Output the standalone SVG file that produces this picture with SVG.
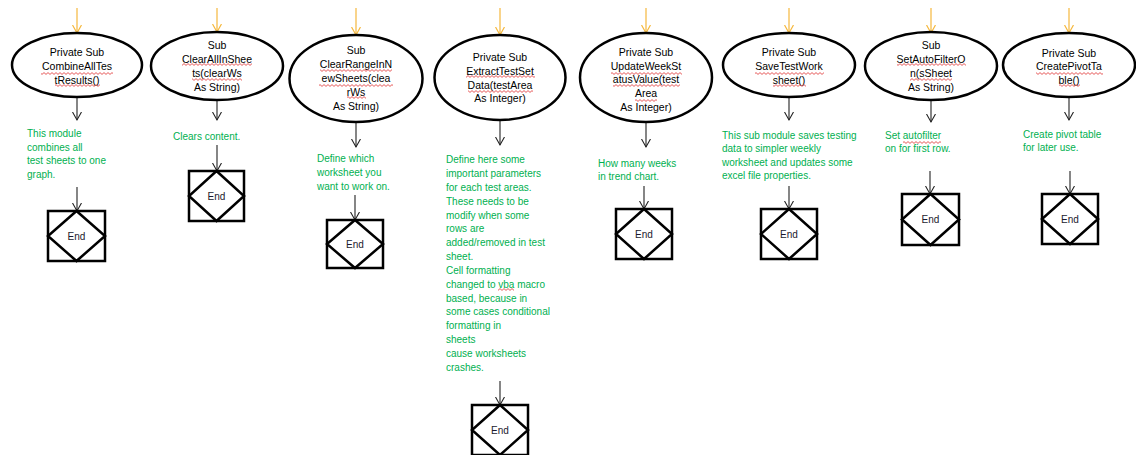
<svg xmlns="http://www.w3.org/2000/svg" width="1136" height="455" viewBox="0 0 1136 455">
<style>
.el{fill:#fff;stroke:#000;stroke-width:2.5}
.box{fill:#fff;stroke:#000;stroke-width:2.5}
.dia{fill:none;stroke:#000;stroke-width:2.5;stroke-linejoin:miter}
.t{font-family:"Liberation Sans",Arial,sans-serif;font-size:10.5px;fill:#000;text-anchor:middle}
.e{font-family:"Liberation Sans",Arial,sans-serif;font-size:10px;fill:#1a1a2e;text-anchor:middle}
.g{font-family:"Liberation Sans",Arial,sans-serif;font-size:10px;fill:#00B050}
.c{stroke:#222;stroke-width:1.1;fill:none;marker-end:url(#ab)}
.o{stroke:#F5B83D;stroke-width:1.2;fill:none;marker-end:url(#ao)}
.sq{fill:url(#wave)}
</style>
<defs>
<marker id="ab" markerWidth="10" markerHeight="10" refX="8" refY="4.5" orient="auto" markerUnits="userSpaceOnUse">
<path d="M0,0 L8,4.5 L0,9" fill="none" stroke="#222" stroke-width="1.1"/>
</marker>
<marker id="ao" markerWidth="10" markerHeight="10" refX="8" refY="4.5" orient="auto" markerUnits="userSpaceOnUse">
<path d="M0,0 L8,4.5 L0,9" fill="none" stroke="#F5B83D" stroke-width="1.2"/>
</marker>
<pattern id="wave" x="0" y="0" width="4" height="3" patternUnits="userSpaceOnUse">
<path d="M0,0.6 L2,2.4 L4,0.6" fill="none" stroke="#E03030" stroke-width="0.8"/>
</pattern>
</defs>
<rect width="1136" height="455" fill="#fff"/>

<g id="connectors">
<path class="o" d="M77,8 V33"/>
<path class="o" d="M217,8 V32"/>
<path class="o" d="M356,8 V35"/>
<path class="o" d="M500,8 V35"/>
<path class="o" d="M646,8 V33"/>
<path class="o" d="M789,8 V33"/>
<path class="o" d="M931,8 V33"/>
<path class="o" d="M1069,8 V33"/>
<path class="c" d="M77,97 V120"/>
<path class="c" d="M217,100 V120"/>
<path class="c" d="M356,122 V147"/>
<path class="c" d="M500,120 V145"/>
<path class="c" d="M646,122 V147"/>
<path class="c" d="M789,97 V120"/>
<path class="c" d="M931,100 V122"/>
<path class="c" d="M1069,97 V120"/>
<path class="c" d="M77,187 V211"/>
<path class="c" d="M217,145 V171"/>
<path class="c" d="M355,195 V220"/>
<path class="c" d="M500,381 V405"/>
<path class="c" d="M644,186 V209"/>
<path class="c" d="M789,186 V209"/>
<path class="c" d="M930,171 V194"/>
<path class="c" d="M1070,171 V194"/>
</g>

<g id="sub1">
<ellipse class="el" cx="77" cy="65" rx="65" ry="32"/>
<text class="t" x="77" y="56">Private Sub</text>
<text class="t" x="77" y="70">CombineAllTes</text>
<text class="t" x="77" y="84">tResults()</text>
<rect class="sq" x="41" y="72" width="72" height="3"/>
<rect class="sq" x="55" y="84" width="45" height="3"/>
</g>
<g id="sub2">
<ellipse class="el" cx="217" cy="66" rx="66" ry="34"/>
<text class="t" x="217" y="49">Sub</text>
<text class="t" x="217" y="63">ClearAllInShee</text>
<text class="t" x="217" y="77">ts(clearWs</text>
<text class="t" x="217" y="91">As String)</text>
<rect class="sq" x="182" y="63" width="70" height="3"/>
<rect class="sq" x="192" y="78" width="50" height="3"/>
</g>
<g id="sub3">
<ellipse class="el" cx="356" cy="78.5" rx="66.5" ry="43.5"/>
<text class="t" x="356" y="54">Sub</text>
<text class="t" x="356" y="68">ClearRangeInN</text>
<text class="t" x="356" y="82">ewSheets(clea</text>
<text class="t" x="356" y="96">rWs</text>
<text class="t" x="356" y="110">As String)</text>
<rect class="sq" x="320" y="69" width="72" height="3"/>
<rect class="sq" x="319" y="84" width="74" height="3"/>
<rect class="sq" x="347" y="96" width="19" height="3"/>
</g>
<g id="sub4">
<ellipse class="el" cx="500" cy="77.5" rx="65.5" ry="42.5"/>
<text class="t" x="500" y="61">Private Sub</text>
<text class="t" x="500" y="75">ExtractTestSet</text>
<text class="t" x="500" y="89">Data(testArea</text>
<text class="t" x="500" y="102">As Integer)</text>
<rect class="sq" x="466" y="75" width="69" height="3"/>
<rect class="sq" x="468" y="90" width="65" height="3"/>
</g>
<g id="sub5">
<ellipse class="el" cx="646" cy="77.5" rx="66" ry="44.5"/>
<text class="t" x="646" y="56">Private Sub</text>
<text class="t" x="646" y="70">UpdateWeekSt</text>
<text class="t" x="646" y="83">atusValue(test</text>
<text class="t" x="646" y="97">Area</text>
<text class="t" x="646" y="111">As Integer)</text>
<rect class="sq" x="611" y="72" width="71" height="3"/>
<rect class="sq" x="613" y="84" width="67" height="3"/>
<rect class="sq" x="635" y="99" width="22" height="3"/>
</g>
<g id="sub6">
<ellipse class="el" cx="789" cy="65" rx="66" ry="32"/>
<text class="t" x="789" y="56">Private Sub</text>
<text class="t" x="789" y="70">SaveTestWork</text>
<text class="t" x="789" y="84">sheet()</text>
<rect class="sq" x="755" y="72" width="69" height="3"/>
<rect class="sq" x="773" y="84" width="33" height="3"/>
</g>
<g id="sub7">
<ellipse class="el" cx="931" cy="66" rx="66" ry="34"/>
<text class="t" x="931" y="49">Sub</text>
<text class="t" x="931" y="63">SetAutoFilterO</text>
<text class="t" x="931" y="77">n(sSheet</text>
<text class="t" x="931" y="91">As String)</text>
<rect class="sq" x="897" y="63" width="69" height="3"/>
<rect class="sq" x="910" y="78" width="42" height="3"/>
</g>
<g id="sub8">
<ellipse class="el" cx="1069" cy="65" rx="66" ry="32"/>
<text class="t" x="1069" y="57">Private Sub</text>
<text class="t" x="1069" y="70">CreatePivotTa</text>
<text class="t" x="1069" y="84">ble()</text>
<rect class="sq" x="1036" y="72" width="67" height="3"/>
<rect class="sq" x="1059" y="84" width="21" height="3"/>
</g>

<g id="note1">
<text class="g" x="27" y="137">This module</text>
<text class="g" x="27" y="150.5">combines all</text>
<text class="g" x="27" y="164">test sheets to one</text>
<text class="g" x="27" y="177.5">graph.</text>
</g>
<g id="note2">
<text class="g" x="173" y="140">Clears content.</text>
</g>
<g id="note3">
<text class="g" x="317" y="162">Define which</text>
<text class="g" x="317" y="176">worksheet you</text>
<text class="g" x="317" y="190">want to work on.</text>
</g>
<g id="note4">
<text class="g" x="446" y="163">Define here some</text>
<text class="g" x="446" y="177">important parameters</text>
<text class="g" x="446" y="191">for each test areas.</text>
<text class="g" x="446" y="204.5">These needs to be</text>
<text class="g" x="446" y="218.5">modify when some</text>
<text class="g" x="446" y="232">rows are</text>
<text class="g" x="446" y="246">added/removed in test</text>
<text class="g" x="446" y="260">sheet.</text>
<text class="g" x="446" y="274">Cell formatting</text>
<text class="g" x="446" y="287.5">changed to vba macro</text>
<text class="g" x="446" y="301.5">based, because in</text>
<text class="g" x="446" y="315">some cases conditional</text>
<text class="g" x="446" y="329">formatting in</text>
<text class="g" x="446" y="343">sheets</text>
<text class="g" x="446" y="356.5">cause worksheets</text>
<text class="g" x="446" y="370.5">crashes.</text>
<rect class="sq" x="498" y="288" width="16" height="3"/>
</g>
<g id="note5">
<text class="g" x="598" y="167">How many weeks</text>
<text class="g" x="598" y="180">in trend chart.</text>
</g>
<g id="note6">
<text class="g" x="722" y="139">This sub module saves testing</text>
<text class="g" x="722" y="152">data to simpler weekly</text>
<text class="g" x="722" y="166">worksheet and updates some</text>
<text class="g" x="722" y="179">excel file properties.</text>
</g>
<g id="note7">
<text class="g" x="885" y="139">Set autofilter</text>
<text class="g" x="885" y="152">on for first row.</text>
<rect class="sq" x="903" y="141" width="38" height="3"/>
</g>
<g id="note8">
<text class="g" x="1023" y="138">Create pivot table</text>
<text class="g" x="1023" y="151">for later use.</text>
</g>

<g id="end1">
<rect class="box" x="48" y="211" width="57" height="50"/>
<path class="dia" d="M76.5,211 L105,236 L76.5,261 L48,236 Z"/>
<text class="e" x="76.5" y="239.5">End</text>
</g>
<g id="end2">
<rect class="box" x="189" y="171" width="55" height="50"/>
<path class="dia" d="M216.5,171 L244,196 L216.5,221 L189,196 Z"/>
<text class="e" x="216.5" y="199.5">End</text>
</g>
<g id="end3">
<rect class="box" x="327" y="220" width="56" height="48"/>
<path class="dia" d="M355,220 L383,244 L355,268 L327,244 Z"/>
<text class="e" x="355" y="247.5">End</text>
</g>
<g id="end4">
<rect class="box" x="472" y="405" width="56" height="50"/>
<path class="dia" d="M500,405 L528,430 L500,455 L472,430 Z"/>
<text class="e" x="500" y="433.5">End</text>
</g>
<g id="end5">
<rect class="box" x="616" y="209" width="56" height="50"/>
<path class="dia" d="M644,209 L672,234 L644,259 L616,234 Z"/>
<text class="e" x="644" y="237.5">End</text>
</g>
<g id="end6">
<rect class="box" x="761" y="209" width="56" height="50"/>
<path class="dia" d="M789,209 L817,234 L789,259 L761,234 Z"/>
<text class="e" x="789" y="237.5">End</text>
</g>
<g id="end7">
<rect class="box" x="902" y="194" width="57" height="51"/>
<path class="dia" d="M930.5,194 L959,219.5 L930.5,245 L902,219.5 Z"/>
<text class="e" x="930.5" y="223">End</text>
</g>
<g id="end8">
<rect class="box" x="1042" y="194" width="56" height="50"/>
<path class="dia" d="M1070,194 L1098,219 L1070,244 L1042,219 Z"/>
<text class="e" x="1070" y="222.5">End</text>
</g>
</svg>
